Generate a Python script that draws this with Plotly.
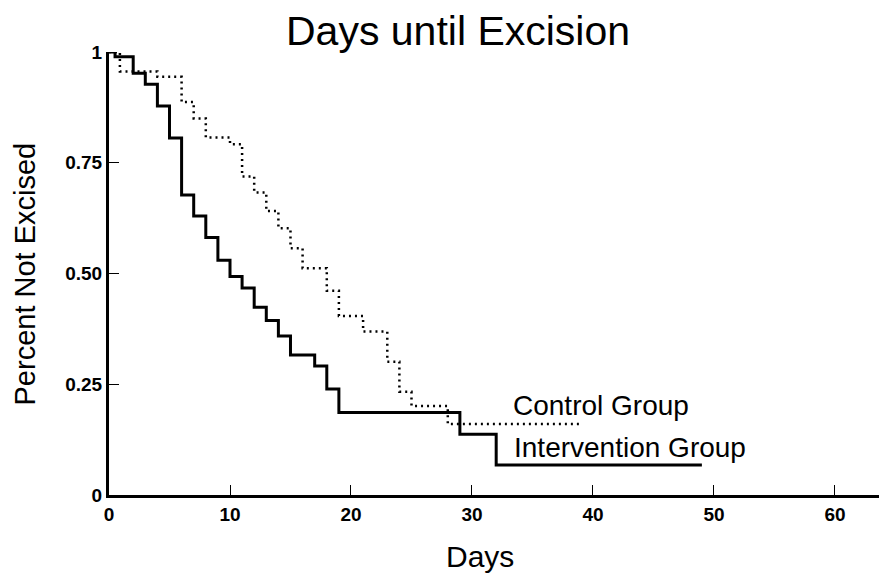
import plotly.graph_objects as go

# Kaplan-Meier style step data (day at which level starts, survival level)
intervention_days = [0, 0.5, 2, 3, 4, 5, 6, 7, 8, 9, 10, 11, 12, 13, 14, 15, 17, 18, 19, 29, 32, 49]
intervention_surv = [1.0, 0.989, 0.952, 0.927, 0.878, 0.806, 0.677, 0.630, 0.581, 0.530, 0.493,
                     0.467, 0.424, 0.394, 0.359, 0.316, 0.291, 0.239, 0.186, 0.137, 0.068, 0.068]

control_days = [0, 0.9, 4, 6, 7, 8, 10, 11, 12, 13, 14, 15, 16, 18, 19, 21, 23, 24, 25, 28, 39]
control_surv = [1.0, 0.956, 0.944, 0.887, 0.850, 0.807, 0.792, 0.719, 0.683, 0.641, 0.602,
                0.557, 0.512, 0.461, 0.404, 0.369, 0.301, 0.233, 0.201, 0.160, 0.160]

x_ticks = [0, 10, 20, 30, 40, 50, 60]
y_ticks = [0, 0.25, 0.5, 0.75, 1]
y_tick_labels = ["0", "0.25", "0.50", "0.75", "1"]

FONT = "Liberation Sans, Arial, Helvetica, sans-serif"

fig = go.Figure()
fig.add_trace(go.Scatter(
    x=control_days, y=control_surv, mode="lines", line_shape="hv",
    line=dict(color="black", width=2.5, dash="2px,4px"), cliponaxis=False,
    name="Control Group", showlegend=False))
fig.add_trace(go.Scatter(
    x=intervention_days, y=intervention_surv, mode="lines", line_shape="hv",
    line=dict(color="black", width=3), cliponaxis=False,
    name="Intervention Group", showlegend=False))

fig.add_annotation(x=33.2, y=0.203, xref="x", yref="y", text="Control Group",
                   showarrow=False, xanchor="left", yanchor="middle",
                   font=dict(family=FONT, size=28, color="black"))
fig.add_annotation(x=33.3, y=0.108, xref="x", yref="y", text="Intervention Group",
                   showarrow=False, xanchor="left", yanchor="middle",
                   font=dict(family=FONT, size=28, color="black"))
fig.add_annotation(x=0.477, y=-0.138, xref="paper", yref="paper", text="Days",
                   showarrow=False, xanchor="center", yanchor="middle",
                   font=dict(family=FONT, size=30, color="black"))
fig.add_annotation(x=-0.108, y=0.5, xref="paper", yref="paper", text="Percent Not Excised",
                   showarrow=False, xanchor="center", yanchor="middle", textangle=-90,
                   font=dict(family=FONT, size=29, color="black"))

# the page body adds an 8px offset, so the figure is sized 8px smaller
fig.update_layout(
    width=879, height=568,
    margin=dict(l=101, r=0, t=44, b=81),
    paper_bgcolor="white", plot_bgcolor="white",
    title=dict(text="Days until Excision", x=0.512, xref="container", xanchor="center",
               y=0.96, yref="container", yanchor="middle",
               font=dict(family=FONT, size=41, color="black")),
    xaxis=dict(range=[0, 64.3], tickvals=x_ticks, ticks="inside", ticklen=10, tickwidth=1,
               tickcolor="black", showline=True, linecolor="black", linewidth=3,
               showgrid=False, zeroline=False, automargin=False,
               tickfont=dict(family=FONT, size=19, color="black", weight="bold")),
    yaxis=dict(range=[0, 1.0], tickvals=y_ticks, ticktext=y_tick_labels, ticks="inside",
               ticklen=10, tickwidth=1, tickcolor="black", showline=True, linecolor="black",
               linewidth=3, showgrid=False, zeroline=False, automargin=False,
               tickfont=dict(family=FONT, size=19, color="black", weight="bold")),
)

fig.write_html("out.html")
